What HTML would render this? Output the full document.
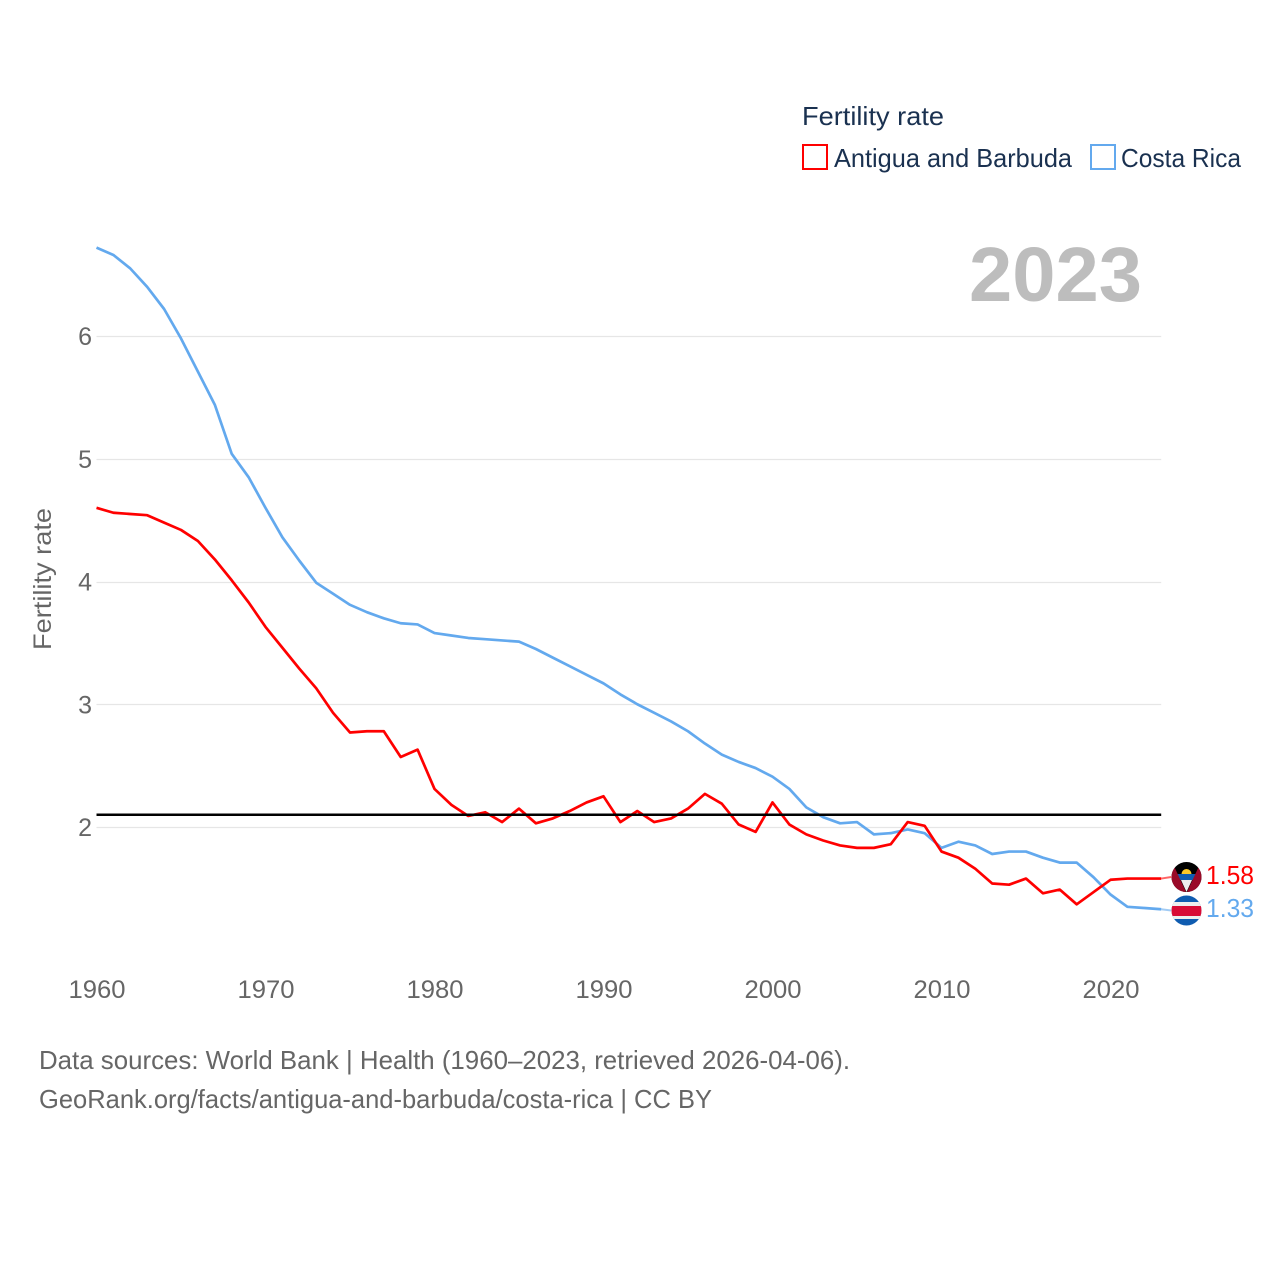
<!DOCTYPE html>
<html lang="en">
<head>
<meta charset="utf-8">
<title>Fertility rate: Antigua and Barbuda vs Costa Rica</title>
<style>
html,body{margin:0;padding:0;background:#fff;}
svg{display:block;font-family:"Liberation Sans",sans-serif;}
</style>
</head>
<body>
<svg id="chart" xmlns="http://www.w3.org/2000/svg" width="1280" height="1280" viewBox="0 0 1280 1280">
  <defs>
    <clipPath id="clip-ag"><circle cx="1186.500" cy="877" r="15"/></clipPath>
    <clipPath id="clip-cr"><circle cx="1186.500" cy="910.500" r="15"/></clipPath>
  </defs>
  <rect width="1280" height="1280" fill="#ffffff"/>
  <g id="grid"></g>
  <g id="yticks"></g>
  <g id="xticks"></g>
  <text transform="translate(51 650) rotate(-90)" font-size="25" fill="#666666" textLength="142" lengthAdjust="spacingAndGlyphs">Fertility rate</text>
  <text x="969" y="301" font-size="77" font-weight="bold" fill="#bdbdbd" textLength="173" lengthAdjust="spacingAndGlyphs">2023</text>
  <g id="series"></g>

  <g>
    <text x="802" y="125" font-size="26" fill="#1a3150" textLength="142" lengthAdjust="spacingAndGlyphs">Fertility rate</text>
    <g>
      <rect x="803" y="145" width="24" height="24" fill="#ffffff" stroke="#ff0000" stroke-width="2"/>
      <text x="834" y="167" font-size="26" fill="#1a3150" textLength="238" lengthAdjust="spacingAndGlyphs">Antigua and Barbuda</text>
    </g>
    <g>
      <rect x="1091" y="145" width="24" height="24" fill="#ffffff" stroke="#63a9ee" stroke-width="2"/>
      <text x="1121" y="167" font-size="26" fill="#1a3150" textLength="120" lengthAdjust="spacingAndGlyphs">Costa Rica</text>
    </g>
  </g>

  <g clip-path="url(#clip-ag)">
    <rect x="1171" y="862" width="31" height="31" fill="#000000"/>
    <path d="M1181.500 874 a5 5 0 0 1 10 0 z" fill="#fcc726"/>
    <rect x="1176" y="874" width="21" height="6" fill="#0f5cb0"/>
    <polygon points="1181,880 1192,880 1186.500,892" fill="#eeeeee"/>
    <polygon points="1173,864 1186.500,893 1171,893 1171,864" fill="#9a0a28"/>
    <polygon points="1200,864 1186.500,893 1202,893 1202,864" fill="#9a0a28"/>
  </g>
  <g clip-path="url(#clip-cr)">
    <rect x="1171" y="895" width="31" height="31" fill="#0f5cb0"/>
    <rect x="1171" y="902" width="31" height="17" fill="#eeeeee"/>
    <rect x="1171" y="906" width="31" height="10" fill="#d80b36"/>
  </g>

  <text x="1206" y="884" font-size="26" fill="#ff0000" textLength="48" lengthAdjust="spacingAndGlyphs">1.58</text>
  <text x="1206" y="917" font-size="26" fill="#63a9ee" textLength="48" lengthAdjust="spacingAndGlyphs">1.33</text>

  <text x="39" y="1069" font-size="26" fill="#666666" textLength="811" lengthAdjust="spacingAndGlyphs">Data sources: World Bank | Health (1960–2023, retrieved 2026-04-06).</text>
  <text x="39" y="1108" font-size="26" fill="#666666" textLength="673" lengthAdjust="spacingAndGlyphs">GeoRank.org/facts/antigua-and-barbuda/costa-rica | CC BY</text>
</svg>
<script>
const startYear = 1960;
const xTickLabels = [1960, 1970, 1980, 1990, 2000, 2010, 2020];
const yTickLabels = [2, 3, 4, 5, 6];
const replacementRate = 2.1;
const antiguaValues = [4.60,4.56,4.55,4.54,4.48,4.42,4.33,4.18,4.01,3.83,3.63,3.46,3.29,3.13,2.93,2.77,2.78,2.78,2.57,2.63,2.31,2.18,2.09,2.12,2.04,2.15,2.03,2.07,2.13,2.20,2.25,2.04,2.13,2.04,2.07,2.15,2.27,2.19,2.02,1.96,2.20,2.02,1.94,1.89,1.85,1.83,1.83,1.86,2.04,2.01,1.80,1.75,1.66,1.54,1.53,1.58,1.46,1.49,1.37,1.47,1.57,1.58,1.58,1.58];
const costaRicaValues = [6.72,6.66,6.55,6.40,6.22,5.98,5.71,5.44,5.04,4.85,4.60,4.36,4.17,3.99,3.90,3.81,3.75,3.70,3.66,3.65,3.58,3.56,3.54,3.53,3.52,3.51,3.45,3.38,3.31,3.24,3.17,3.08,3.00,2.93,2.86,2.78,2.68,2.59,2.53,2.48,2.41,2.31,2.16,2.08,2.03,2.04,1.94,1.95,1.98,1.95,1.83,1.88,1.85,1.78,1.80,1.80,1.75,1.71,1.71,1.59,1.45,1.35,1.34,1.33];

const SVGNS = 'http://www.w3.org/2000/svg';
const xScale = function (year) { return 96.5 + (year - startYear) * 16.9; };
const yScale = function (v) { return 827 - (v - 2) * 122.75; };
const plotLeft = xScale(1960);
const plotRight = xScale(2023);

function make(tag, attrs, parent) {
  const el = document.createElementNS(SVGNS, tag);
  for (const k in attrs) { el.setAttribute(k, attrs[k]); }
  parent.appendChild(el);
  return el;
}

const gridGroup = document.getElementById('grid');
const yGroup = document.getElementById('yticks');
const xGroup = document.getElementById('xticks');
const seriesGroup = document.getElementById('series');

yTickLabels.forEach(function (v) {
  const gy = Math.round(yScale(v)) + 0.5;
  const line = make('line', {x1: plotLeft, x2: plotRight, y1: gy, y2: gy, stroke: '#e6e6e6', 'stroke-width': 1.2}, gridGroup);
  
  
  const t = make('text', {x: 92, y: yScale(v) + 9, 'text-anchor': 'end', 'font-size': 25, fill: '#666666'}, yGroup);
  t.textContent = String(v);
  
  
});

xTickLabels.forEach(function (year) {
  const t = make('text', {x: xScale(year) + 0.5, y: 998, 'text-anchor': 'middle', 'font-size': 25, fill: '#666666', textLength: 57, lengthAdjust: 'spacingAndGlyphs'}, xGroup);
  t.textContent = String(year);
  
  
});

function pathFor(values) {
  return values.map(function (v, i) {
    return (i ? 'L' : 'M') + xScale(startYear + i).toFixed(2) + ' ' + yScale(v).toFixed(2);
  }).join(' ');
}

const costaLine = make('path', {d: pathFor(costaRicaValues), fill: 'none', stroke: '#63a9ee', 'stroke-width': 2.7, 'stroke-linejoin': 'round'}, seriesGroup);



const antiguaLine = make('path', {d: pathFor(antiguaValues), fill: 'none', stroke: '#ff0000', 'stroke-width': 2.7, 'stroke-linejoin': 'round'}, seriesGroup);



const refLine = make('line', {x1: plotLeft, x2: plotRight, y1: yScale(replacementRate), y2: yScale(replacementRate), stroke: '#000000', 'stroke-width': 2.5}, seriesGroup);



const antiguaLast = antiguaValues[antiguaValues.length - 1];
const costaLast = costaRicaValues[costaRicaValues.length - 1];
const antiguaStub = make('line', {x1: plotRight, x2: plotRight + 10, y1: yScale(antiguaLast), y2: 877, stroke: '#ff0000', 'stroke-width': 2, opacity: 0.6}, seriesGroup);


const costaStub = make('line', {x1: plotRight, x2: plotRight + 10, y1: yScale(costaLast), y2: 910.5, stroke: '#63a9ee', 'stroke-width': 2, opacity: 0.6}, seriesGroup);


</script>
</body>
</html>
